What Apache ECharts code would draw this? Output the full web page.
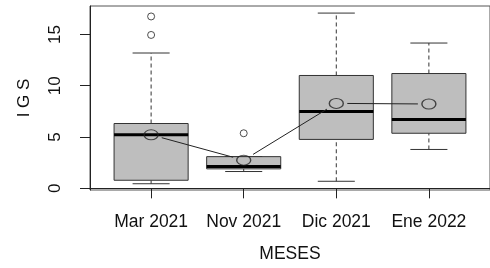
<!DOCTYPE html>
<html>
<head>
<meta charset="utf-8">
<script src="https://cdn.jsdelivr.net/npm/echarts@6/dist/echarts.min.js"></script>
<style>
  html, body { margin: 0; padding: 0; background: #fff; }
  #chart { width: 490px; height: 268px; }
</style>
</head>
<body>
<div id="chart"></div>
<script>
// boxplot IGS por mes
var categories = ["Mar 2021", "Nov 2021", "Dic 2021", "Ene 2022"];
var lowerWhisker = [0.45, 1.64, 0.69, 3.79];
var q1 = [0.79, 1.9, 4.77, 5.37];
var median = [5.22, 2.12, 7.49, 6.7];
var q3 = [6.32, 3.09, 11.0, 11.19];
var upperWhisker = [13.19, 3.09, 17.08, 14.16];
var means = [5.22, 2.75, 8.28, 8.22];
var outlierCat = [1, 1, 2];
var outlierVal = [16.75, 14.95, 5.37];
var yTicks = [0, 5, 10, 15];

var boxData = categories.map(function (c, i) {
  return [i + 1, lowerWhisker[i], q1[i], median[i], q3[i], upperWhisker[i]];
});
var meanData = means.map(function (m, i) { return [i + 1, m]; });
var segData = [];
for (var i = 0; i < means.length - 1; i++) {
  segData.push([i + 1, means[i], i + 2, means[i + 1]]);
}
var outData = outlierCat.map(function (c, i) { return [c, outlierVal[i]]; });

var dark = "#333";
var font = "'Liberation Sans', Arial, sans-serif";

function renderBox(params, api) {
  var x = api.value(0);
  var low = api.coord([x, api.value(1)]);
  var b1 = api.coord([x, api.value(2)]);
  var med = api.coord([x, api.value(3)]);
  var b3 = api.coord([x, api.value(4)]);
  var high = api.coord([x, api.value(5)]);
  var halfBox = api.size([0.4, 0])[0];
  var halfCap = api.size([0.2, 0])[0];
  var cx = low[0];
  var dash = { stroke: dark, lineWidth: 1, lineDash: [4, 3] };
  var solid = { stroke: dark, lineWidth: 1 };
  return {
    type: "group",
    children: [
      { type: "line", shape: { x1: cx, y1: b3[1], x2: cx, y2: high[1] }, style: dash },
      { type: "line", shape: { x1: cx, y1: low[1], x2: cx, y2: b1[1] }, style: dash },
      { type: "line", shape: { x1: cx - halfCap, y1: high[1], x2: cx + halfCap, y2: high[1] }, style: solid },
      { type: "line", shape: { x1: cx - halfCap, y1: low[1], x2: cx + halfCap, y2: low[1] }, style: solid },
      {
        type: "rect",
        shape: { x: cx - halfBox, y: b3[1], width: halfBox * 2, height: b1[1] - b3[1] },
        style: { fill: "#bebebe", stroke: dark, lineWidth: 1 }
      },
      { type: "line", shape: { x1: cx - halfBox, y1: med[1], x2: cx + halfBox, y2: med[1] }, style: { stroke: "#000", lineWidth: 3 } }
    ]
  };
}

function renderSeg(params, api) {
  var a = api.coord([api.value(0), api.value(1)]);
  var b = api.coord([api.value(2), api.value(3)]);
  var dx = b[0] - a[0], dy = b[1] - a[1];
  var len = Math.sqrt(dx * dx + dy * dy);
  var gap = 11;
  var ux = dx / len, uy = dy / len;
  return {
    type: "line",
    shape: { x1: a[0] + ux * gap, y1: a[1] + uy * gap, x2: b[0] - ux * gap, y2: b[1] - uy * gap },
    style: { stroke: "#222", lineWidth: 1 }
  };
}

var myChart = echarts.init(document.getElementById("chart"));
myChart.setOption({
  animation: false,
  grid: {
    left: 90, top: 6, width: 415, height: 189,
    show: true, borderColor: "#555", borderWidth: 1, backgroundColor: "transparent"
  },
  xAxis: {
    type: "value",
    min: 0.34,
    max: 4.66,
    name: "MESES",
    nameLocation: "middle",
    nameGap: 55,
    nameTextStyle: { fontFamily: font, fontSize: 17.5, color: "#111" },
    axisLine: { show: true, lineStyle: { color: "#222" } },
    splitLine: { show: false },
    axisTick: { show: true, length: 10, customValues: [1, 2, 3, 4], lineStyle: { color: "#222" } },
    axisLabel: {
      customValues: [1, 2, 3, 4],
      margin: 23,
      fontFamily: font,
      fontSize: 17.5,
      color: "#111",
      formatter: function (v) { return categories[Math.round(v) - 1]; }
    }
  },
  yAxis: {
    type: "value",
    min: -0.16,
    max: 17.77,
    name: "I G S",
    nameLocation: "middle",
    nameRotate: 90,
    nameGap: 57,
    nameTextStyle: { fontFamily: font, fontSize: 17, color: "#111" },
    axisLine: { show: true, lineStyle: { color: "#222" } },
    splitLine: { show: false },
    axisTick: { show: true, length: 10, customValues: yTicks, lineStyle: { color: "#222" } },
    axisLabel: {
      customValues: yTicks,
      rotate: 90,
      margin: 26,
      align: "center",
      verticalAlign: "bottom",
      fontFamily: font,
      fontSize: 17,
      color: "#111"
    }
  },
  series: [
    {
      type: "custom",
      renderItem: renderBox,
      data: boxData,
      encode: { x: 0, y: [1, 2, 3, 4, 5] },
      z: 2
    },
    {
      type: "custom",
      renderItem: renderSeg,
      data: segData,
      encode: { x: [0, 2], y: [1, 3] },
      z: 3
    },
    {
      type: "scatter",
      data: meanData,
      symbol: "circle",
      symbolSize: [14, 10],
      itemStyle: { color: "transparent", borderColor: "#222", borderWidth: 1.2 },
      z: 4
    },
    {
      type: "scatter",
      data: outData,
      symbol: "circle",
      symbolSize: 7,
      itemStyle: { color: "transparent", borderColor: "#222", borderWidth: 1 },
      z: 4
    }
  ]
});
</script>
</body>
</html>
